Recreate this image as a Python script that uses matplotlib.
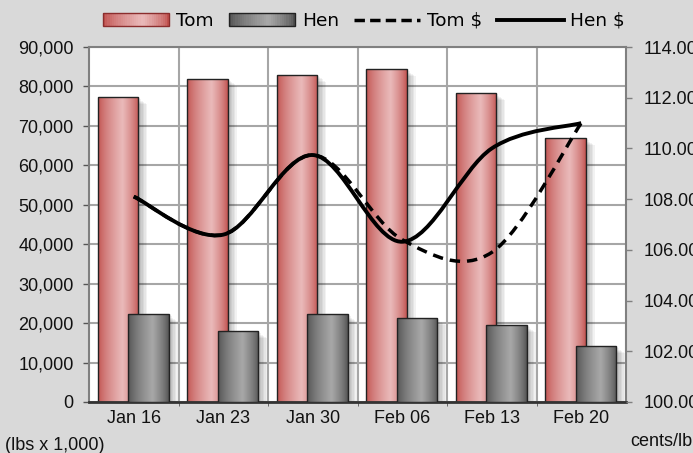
import numpy as np
import matplotlib
matplotlib.use("Agg")
import matplotlib.pyplot as plt
from matplotlib.path import Path
from matplotlib.patches import PathPatch, Rectangle
from matplotlib.lines import Line2D
from matplotlib.legend_handler import HandlerBase
from matplotlib.ticker import FixedLocator, FuncFormatter

# data
weeks = ["Jan 16", "Jan 23", "Jan 30", "Feb 06", "Feb 13", "Feb 20"]
tom_lbs = [77300, 82000, 83000, 84400, 78300, 66900]
hen_lbs = [22300, 18000, 22300, 21300, 19500, 14200]
tom_price = [108.1, 106.6, 109.74, 106.4, 105.9, 111.0]
hen_price = [108.1, 106.6, 109.74, 106.32, 110.0, 111.0]

bg = "#d9d9d9"
tom_dark, tom_light = np.array([192, 80, 77]) / 255, np.array([234, 186, 186]) / 255
hen_dark, hen_light = np.array([80, 80, 80]) / 255, np.array([168, 168, 168]) / 255

plt.rcParams['font.family'] = ['Liberation Sans', 'DejaVu Sans']


def grad_colors(dark, light, n=64):
    t = np.linspace(0, 1, n)
    w = np.where(t < 0.6, t / 0.6, (1 - t) / 0.4)
    w = np.clip(w, 0, 1) ** 0.7
    return dark[None, :] + (light - dark)[None, :] * w[:, None]


def smooth_path(xs, ys):
    # excel-style smoothed line (bezier through the points)
    n = len(xs)
    verts = [(xs[0], ys[0])]
    codes = [Path.MOVETO]
    for i in range(n - 1):
        a = i - 1 if i > 0 else i
        d = i + 2 if i + 2 < n else i + 1
        c1 = (xs[i] + (xs[i + 1] - xs[a]) / 6, ys[i] + (ys[i + 1] - ys[a]) / 6)
        c2 = (xs[i + 1] - (xs[d] - xs[i]) / 6, ys[i + 1] - (ys[d] - ys[i]) / 6)
        verts += [c1, c2, (xs[i + 1], ys[i + 1])]
        codes += [Path.CURVE4] * 3
    return Path(verts, codes)


class GradHandler(HandlerBase):
    def __init__(self, dark, light, edge):
        super().__init__()
        self.dark, self.light, self.edge = dark, light, edge

    def create_artists(self, legend, orig_handle, xdescent, ydescent,
                       width, height, fontsize, trans):
        cols = grad_colors(self.dark, self.light, 30)
        x0, y0 = -xdescent, -ydescent
        arts = []
        for i, c in enumerate(cols):
            r = Rectangle((x0 + width * i / 30, y0), width / 30 + 0.3, height,
                          facecolor=c, edgecolor='none', transform=trans)
            arts.append(r)
        arts.append(Rectangle((x0, y0), width, height, facecolor='none',
                              edgecolor=self.edge, lw=1, transform=trans))
        return arts


fig = plt.figure(figsize=(6.93, 4.53), dpi=100, facecolor=bg)
ax = fig.add_axes([89 / 693, 1 - 402 / 453, 537 / 693, 355 / 453])
ax.set_facecolor('white')

x = np.arange(len(weeks))
bw = 0.45
px = 6 / 537  # one pixel in x data units


def draw_bars(xpos, vals, dark, light, z):
    bars = ax.bar(xpos, vals, width=bw, facecolor='none', edgecolor='#222222',
                  lw=1, zorder=z + 0.2)
    cols = grad_colors(dark, light)[None, :, :]
    for b in bars:
        bx, by = b.get_x(), b.get_height()
        for k in range(1, 7):
            ax.add_patch(Rectangle((bx + k * 1.5 * px, -2000), bw, by + 2000 - k * 300,
                                   facecolor='black', alpha=0.05, edgecolor='none',
                                   zorder=z))
        img = ax.imshow(cols, extent=[bx, bx + bw, 0, by], aspect='auto',
                        interpolation='bilinear', zorder=z + 0.1)
        img.set_clip_path(b)


draw_bars(x - 0.175, tom_lbs, tom_dark, tom_light, 2.0)
draw_bars(x + 0.165, hen_lbs, hen_dark, hen_light, 2.5)

ax.set_xlim(-0.5, 5.5)
ax.set_ylim(0, 90000)
ax.set_yticks(range(0, 90001, 10000))
ax.yaxis.set_major_formatter(FuncFormatter(lambda v, p: f"{v:,.0f}"))
ax.set_xticks(x)
ax.set_xticklabels(weeks)
ax.xaxis.set_minor_locator(FixedLocator([0.5, 1.5, 2.5, 3.5, 4.5]))
ax.set_axisbelow(True)
ax.grid(axis='y', which='major', color='#a6a6a6', lw=1.5)
ax.grid(axis='x', which='minor', color='#a6a6a6', lw=1.5)
ax.tick_params(axis='x', which='major', length=0, pad=6, labelsize=13, colors='#111111')
ax.tick_params(axis='x', which='minor', length=3, color='#555555')
ax.tick_params(axis='y', length=4, width=1, color='#555555', pad=7,
               labelsize=13, labelcolor='#111111')
for s in ['left', 'top', 'right']:
    ax.spines[s].set_color('#808080')
    ax.spines[s].set_linewidth(1.5)
ax.spines['bottom'].set_color('#333333')
ax.spines['bottom'].set_linewidth(2)

ax2 = ax.twinx()
ax2.set_ylim(100, 114)
ax2.set_yticks(np.arange(100, 114.01, 2))
ax2.yaxis.set_major_formatter(FuncFormatter(lambda v, p: f"{v:.2f}"))
ax2.tick_params(axis='y', length=4, width=1, color='#808080', pad=9,
                labelsize=13, labelcolor='#111111')
for s in ax2.spines.values():
    s.set_visible(False)

ax2.add_patch(PathPatch(smooth_path(x, tom_price), fill=False, color='black',
                        lw=2.5, linestyle=(0, (3, 2)), zorder=5))
ax2.add_patch(PathPatch(smooth_path(x, hen_price), fill=False, color='black',
                        lw=2.8, zorder=6))

handles = [Rectangle((0, 0), 1, 1), Rectangle((0, 0), 1, 1),
           Line2D([], [], color='black', lw=2.5, linestyle=(0, (3, 1.5))),
           Line2D([], [], color='black', lw=2.8)]
fig.legend(handles, ["Tom", "Hen", "Tom $", "Hen $"], ncol=4, frameon=False,
           loc='center', bbox_to_anchor=(364 / 693, 1 - 21 / 453),
           prop={'family': 'DejaVu Sans', 'size': 13.3},
           handlelength=3.6, handleheight=0.65, handletextpad=0.37, columnspacing=0.8,
           handler_map={handles[0]: GradHandler(tom_dark, tom_light, '#8b2d2d'),
                        handles[1]: GradHandler(hen_dark, hen_light, '#222222')})

fig.text(5 / 693, 1 - 445 / 453, "(lbs x 1,000)", fontsize=13, va='center',
         color='#111111')
fig.text(630 / 693, 1 - 441 / 453, "cents/lb", fontsize=13, va='center',
         color='#111111')

fig.savefig("out.png", dpi=100, facecolor=bg)
